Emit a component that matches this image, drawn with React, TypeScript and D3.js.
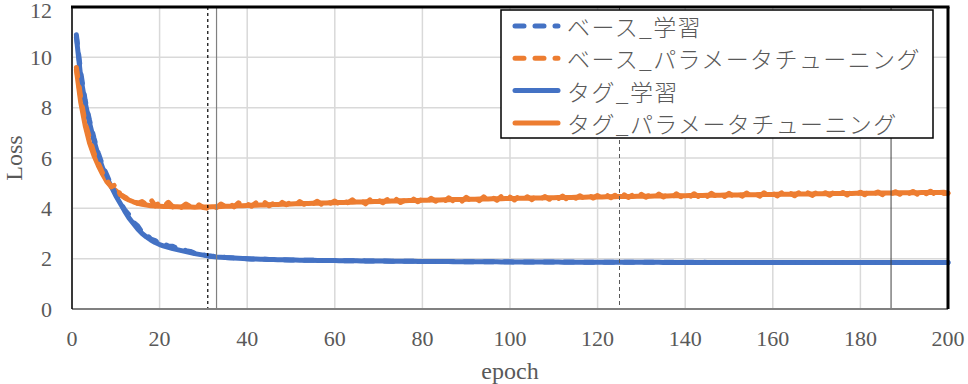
import React from 'react';
import * as d3 from 'd3';

// Loss per epoch (1..200)
const baseTrain = [
  10.9, 9.4, 8.3, 7.5, 6.8, 6.2, 5.7, 5.3, 4.9, 4.55,
  4.25, 3.95, 3.75, 3.45, 3.3, 3.05, 2.95, 2.78, 2.72, 2.6,
  2.58, 2.5, 2.49, 2.42, 2.4, 2.32, 2.29, 2.22, 2.2, 2.15,
  2.12, 2.1, 2.08, 2.07, 2.05, 2.04, 2.03, 2.02, 2.01, 2.0,
  1.99, 1.99, 1.98, 1.98, 1.97, 1.97, 1.96, 1.96, 1.96, 1.95,
  1.95, 1.95, 1.94, 1.94, 1.94, 1.94, 1.93, 1.93, 1.93, 1.93,
  1.93, 1.92, 1.92, 1.92, 1.92, 1.92, 1.91, 1.91, 1.91, 1.91,
  1.91, 1.91, 1.9, 1.9, 1.9, 1.9, 1.9, 1.9, 1.9, 1.89,
  1.89, 1.89, 1.89, 1.89, 1.89, 1.89, 1.89, 1.89, 1.88, 1.88,
  1.88, 1.88, 1.88, 1.88, 1.88, 1.88, 1.88, 1.88, 1.88, 1.88,
  1.87, 1.87, 1.87, 1.87, 1.87, 1.87, 1.87, 1.87, 1.87, 1.87,
  1.87, 1.87, 1.87, 1.87, 1.87, 1.87, 1.86, 1.86, 1.86, 1.86,
  1.86, 1.86, 1.86, 1.86, 1.86, 1.86, 1.86, 1.86, 1.86, 1.86,
  1.86, 1.86, 1.86, 1.86, 1.86, 1.86, 1.86, 1.86, 1.86, 1.86,
  1.86, 1.86, 1.86, 1.86, 1.85, 1.85, 1.85, 1.85, 1.85, 1.85,
  1.85, 1.85, 1.85, 1.85, 1.85, 1.85, 1.85, 1.85, 1.85, 1.85,
  1.85, 1.85, 1.85, 1.85, 1.85, 1.85, 1.85, 1.85, 1.85, 1.85,
  1.85, 1.85, 1.85, 1.85, 1.85, 1.85, 1.85, 1.85, 1.85, 1.85,
  1.85, 1.85, 1.85, 1.85, 1.85, 1.85, 1.85, 1.85, 1.85, 1.85,
  1.85, 1.85, 1.85, 1.85, 1.85, 1.85, 1.85, 1.85, 1.85, 1.85
];

const baseTune = [
  9.6, 8.4, 7.4, 6.8, 6.2, 5.8, 5.4, 5.1, 4.85, 4.95,
  4.55, 4.45, 4.35, 4.3, 4.2, 4.27, 4.15, 4.35, 4.1, 4.22,
  4.1, 4.24, 4.06, 4.2, 4.04, 4.17, 4.08, 4.02, 4.14, 4.03,
  4.0, 4.14, 4.03, 4.17, 4.08, 4.2, 4.06, 4.22, 4.1, 4.18,
  4.08, 4.22, 4.12, 4.24, 4.1, 4.2, 4.08, 4.24, 4.14, 4.26,
  4.13, 4.27, 4.16, 4.3, 4.18, 4.28, 4.16, 4.32, 4.2, 4.29,
  4.18, 4.32, 4.22, 4.34, 4.2, 4.3, 4.18, 4.34, 4.24, 4.32,
  4.22, 4.35, 4.25, 4.37, 4.23, 4.32, 4.22, 4.37, 4.26, 4.38,
  4.26, 4.4, 4.28, 4.38, 4.26, 4.42, 4.3, 4.4, 4.28, 4.44,
  4.31, 4.42, 4.3, 4.46, 4.33, 4.44, 4.32, 4.47, 4.34, 4.45,
  4.33, 4.48, 4.36, 4.46, 4.34, 4.5, 4.38, 4.47, 4.36, 4.51,
  4.38, 4.49, 4.36, 4.52, 4.4, 4.5, 4.38, 4.52, 4.41, 4.51,
  4.4, 4.54, 4.42, 4.52, 4.41, 4.55, 4.43, 4.53, 4.42, 4.56,
  4.44, 4.54, 4.43, 4.57, 4.45, 4.55, 4.44, 4.58, 4.46, 4.56,
  4.45, 4.58, 4.47, 4.57, 4.46, 4.6, 4.48, 4.57, 4.47, 4.6,
  4.48, 4.59, 4.48, 4.61, 4.5, 4.59, 4.48, 4.62, 4.5, 4.6,
  4.49, 4.62, 4.51, 4.6, 4.5, 4.63, 4.52, 4.62, 4.51, 4.64,
  4.53, 4.62, 4.52, 4.65, 4.54, 4.63, 4.53, 4.66, 4.55, 4.64,
  4.54, 4.67, 4.56, 4.65, 4.54, 4.68, 4.57, 4.66, 4.56, 4.69,
  4.58, 4.67, 4.56, 4.7, 4.58, 4.68, 4.57, 4.7, 4.59, 4.6
];

const tagTrain = [
  10.8, 9.2, 8.2, 7.4, 6.7, 6.1, 5.6, 5.2, 4.85, 4.5,
  4.2, 3.9, 3.62, 3.4, 3.18, 3.0, 2.86, 2.74, 2.64, 2.56,
  2.5, 2.45, 2.4, 2.36, 2.32, 2.28, 2.24, 2.2, 2.17, 2.14,
  2.11, 2.09, 2.07, 2.06, 2.05, 2.04, 2.03, 2.02, 2.01, 2.0,
  1.99, 1.99, 1.98, 1.98, 1.97, 1.97, 1.96, 1.96, 1.95, 1.95,
  1.95, 1.94, 1.94, 1.94, 1.94, 1.93, 1.93, 1.93, 1.93, 1.93,
  1.92, 1.92, 1.92, 1.92, 1.92, 1.91, 1.91, 1.91, 1.91, 1.91,
  1.91, 1.9, 1.9, 1.9, 1.9, 1.9, 1.9, 1.9, 1.89, 1.89,
  1.89, 1.89, 1.89, 1.89, 1.89, 1.89, 1.88, 1.88, 1.88, 1.88,
  1.88, 1.88, 1.88, 1.88, 1.88, 1.88, 1.88, 1.87, 1.87, 1.87,
  1.87, 1.87, 1.87, 1.87, 1.87, 1.87, 1.87, 1.87, 1.87, 1.87,
  1.87, 1.86, 1.86, 1.86, 1.86, 1.86, 1.86, 1.86, 1.86, 1.86,
  1.86, 1.86, 1.86, 1.86, 1.86, 1.86, 1.86, 1.86, 1.86, 1.86,
  1.86, 1.86, 1.86, 1.86, 1.85, 1.85, 1.85, 1.85, 1.85, 1.85,
  1.85, 1.85, 1.85, 1.85, 1.85, 1.85, 1.85, 1.85, 1.85, 1.85,
  1.85, 1.85, 1.85, 1.85, 1.85, 1.85, 1.85, 1.85, 1.85, 1.85,
  1.85, 1.85, 1.85, 1.85, 1.85, 1.85, 1.85, 1.85, 1.85, 1.85,
  1.85, 1.85, 1.85, 1.85, 1.85, 1.85, 1.85, 1.85, 1.85, 1.85,
  1.85, 1.85, 1.85, 1.85, 1.85, 1.85, 1.85, 1.85, 1.85, 1.85,
  1.85, 1.85, 1.85, 1.85, 1.85, 1.85, 1.85, 1.85, 1.85, 1.85
];

const tagTune = [
  9.5, 8.2, 7.3, 6.6, 6.1, 5.7, 5.35, 5.05, 4.85, 4.7,
  4.55, 4.42, 4.33, 4.26, 4.2, 4.16, 4.13, 4.1, 4.09, 4.08,
  4.07, 4.07, 4.06, 4.06, 4.05, 4.05, 4.05, 4.04, 4.05, 4.05,
  4.05, 4.06, 4.06, 4.07, 4.08, 4.08, 4.09, 4.1, 4.1, 4.11,
  4.12, 4.12, 4.13, 4.13, 4.14, 4.15, 4.15, 4.16, 4.16, 4.17,
  4.18, 4.18, 4.19, 4.19, 4.2, 4.2, 4.21, 4.21, 4.22, 4.22,
  4.23, 4.23, 4.24, 4.24, 4.25, 4.25, 4.26, 4.26, 4.27, 4.27,
  4.28, 4.28, 4.29, 4.29, 4.3, 4.3, 4.31, 4.31, 4.31, 4.32,
  4.32, 4.33, 4.33, 4.33, 4.34, 4.34, 4.35, 4.35, 4.35, 4.36,
  4.36, 4.36, 4.37, 4.37, 4.37, 4.38, 4.38, 4.38, 4.39, 4.39,
  4.39, 4.4, 4.4, 4.4, 4.41, 4.41, 4.41, 4.42, 4.42, 4.42,
  4.43, 4.43, 4.43, 4.43, 4.44, 4.44, 4.44, 4.45, 4.45, 4.45,
  4.45, 4.46, 4.46, 4.46, 4.47, 4.47, 4.47, 4.47, 4.48, 4.48,
  4.48, 4.48, 4.49, 4.49, 4.49, 4.49, 4.5, 4.5, 4.5, 4.5,
  4.51, 4.51, 4.51, 4.51, 4.52, 4.52, 4.52, 4.52, 4.53, 4.53,
  4.53, 4.53, 4.54, 4.54, 4.54, 4.54, 4.55, 4.55, 4.55, 4.55,
  4.56, 4.56, 4.56, 4.56, 4.57, 4.57, 4.57, 4.57, 4.57, 4.58,
  4.58, 4.58, 4.58, 4.59, 4.59, 4.59, 4.59, 4.59, 4.6, 4.6,
  4.6, 4.6, 4.6, 4.61, 4.61, 4.61, 4.61, 4.61, 4.62, 4.62,
  4.62, 4.62, 4.62, 4.63, 4.63, 4.63, 4.63, 4.63, 4.64, 4.6
];

const seriesNames = [
  'ベース_学習',
  'ベース_パラメータチューニング',
  'タグ_学習',
  'タグ_パラメータチューニング'
];

const xTicks = [0, 20, 40, 60, 80, 100, 120, 140, 160, 180, 200];
const yTicks = [0, 2, 4, 6, 8, 10, 12];

// marker lines drawn over the plot
const markerEpochs = [31, 33, 125, 187];

const BLUE = '#4472C4';
const ORANGE = '#ED7D31';
const TEXT = '#595959';

const width = 968;
const height = 384;
const margins = { l: 72, t: 7, r: 20, b: 75 };

const App = () => {
  const plotwidth = width - margins.l - margins.r;
  const plotheight = height - margins.t - margins.b;

  const xScale = d3.scaleLinear().domain([0, 200]).range([margins.l, margins.l + plotwidth]);
  const yScale = d3.scaleLinear().domain([0, 12]).range([margins.t + plotheight, margins.t]);

  const line = d3
    .line<number>()
    .x((d, i) => xScale(i + 1))
    .y(d => yScale(d));

  const series = [
    { data: baseTrain, color: BLUE, dashed: true },
    { data: baseTune, color: ORANGE, dashed: true },
    { data: tagTrain, color: BLUE, dashed: false },
    { data: tagTune, color: ORANGE, dashed: false }
  ];

  const markerStyles = [
    { stroke: '#000', dash: '3 3', w: 1.2 },
    { stroke: '#808080', dash: null, w: 1.2 },
    { stroke: '#595959', dash: '4 3', w: 1 },
    { stroke: '#404040', dash: null, w: 1 }
  ];

  const x0 = xScale(0);
  const x1 = xScale(200);
  const yTop = yScale(12);
  const yBot = yScale(0);

  const legX = 501;
  const legY = 10;
  const rowH = 32.3;

  return (
    <div style={{ position: 'absolute', left: 0, top: 0 }}>
      <svg width={width} height={height} style={{ display: 'block' }}>
        <rect x={0} y={0} width={width} height={height} fill="#fff" />
        {/* grid */}
        {xTicks.map(t => (
          <line key={'gx' + t} x1={xScale(t)} x2={xScale(t)} y1={yTop} y2={yBot} stroke="#d9d9d9" strokeWidth={1.5} />
        ))}
        {yTicks.map(t => (
          <line key={'gy' + t} x1={x0} x2={x1} y1={yScale(t)} y2={yScale(t)} stroke="#d9d9d9" strokeWidth={1.5} />
        ))}

        {/* series, dashed ones on top */}
        {[2, 3, 0, 1].map(i => {
          const s = series[i];
          return (
            <path
              key={'s' + i}
              d={line(s.data) || ''}
              fill="none"
              stroke={s.color}
              strokeWidth={5}
              strokeLinecap="round"
              strokeLinejoin="round"
              strokeDasharray={s.dashed ? '9 11' : undefined}
            />
          );
        })}

        {/* marker lines */}
        {markerEpochs.map((e, i) => (
          <line
            key={'m' + e}
            x1={xScale(e)}
            x2={xScale(e)}
            y1={yTop}
            y2={yBot}
            stroke={markerStyles[i].stroke}
            strokeWidth={markerStyles[i].w}
            strokeDasharray={markerStyles[i].dash || undefined}
          />
        ))}

        {/* frame */}
        <line x1={x0} x2={x1} y1={yBot} y2={yBot} stroke="#808080" strokeWidth={2} />
        <line x1={x0} x2={x0} y1={yTop} y2={yBot} stroke="#000" strokeWidth={1.5} />
        <line x1={x0 - 1} x2={x1 + 1.5} y1={yTop} y2={yTop} stroke="#000" strokeWidth={3} />
        <line x1={x1} x2={x1} y1={yTop} y2={yBot} stroke="#000" strokeWidth={3} />

        {/* tick labels */}
        <g fontFamily="'Liberation Serif', 'Times New Roman', serif" fontSize={22} fill={TEXT}>
          {yTicks.map(t => (
            <text key={'yl' + t} x={52} y={Math.max(yScale(t), 10)} textAnchor="end" dominantBaseline="central">
              {t}
            </text>
          ))}
          {xTicks.map(t => (
            <text key={'xl' + t} x={xScale(t)} y={338} textAnchor="middle" dominantBaseline="central">
              {t}
            </text>
          ))}
          <text x={xScale(100)} y={371} textAnchor="middle" dominantBaseline="central" fontSize={24}>
            epoch
          </text>
          <text
            transform={`translate(14, ${(yTop + yBot) / 2}) rotate(-90)`}
            textAnchor="middle"
            dominantBaseline="central"
            fontSize={24}
          >
            Loss
          </text>
        </g>

        {/* legend */}
        <rect x={legX} y={legY} width={432} height={128} fill="#fff" stroke="#000" strokeWidth={1.5} />
        {series.map((s, i) => {
          const cy = legY + 16 + i * rowH;
          return (
            <g key={'lg' + i}>
              <line
                x1={515}
                x2={558}
                y1={cy}
                y2={cy}
                stroke={s.color}
                strokeWidth={5}
                strokeLinecap="round"
                strokeDasharray={s.dashed ? '9 11' : undefined}
              />
              <text
                x={567}
                y={cy}
                dominantBaseline="central"
                fontFamily="'Noto Sans CJK JP', sans-serif"
                fontWeight={300}
                fontSize={23}
                letterSpacing={1.4}
                fill={TEXT}
              >
                {seriesNames[i]}
              </text>
            </g>
          );
        })}
      </svg>
    </div>
  );
};

export default App;
